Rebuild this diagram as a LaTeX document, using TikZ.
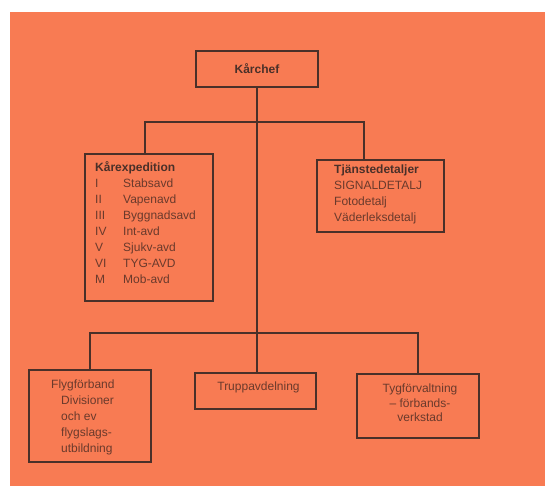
\documentclass[tikz,border=0pt]{standalone}
\usepackage{fontspec}
\setmainfont{Liberation Sans}
\usepackage{array}
\definecolor{bgorange}{HTML}{F87B53}
\definecolor{lineink}{HTML}{4A3029}
\definecolor{textink}{HTML}{6A3A2C}
\tikzset{
  orgbox/.style={draw=lineink, line width=2pt, inner sep=0pt},
  conn/.style={draw=lineink, line width=2.4pt, line cap=rect},
  txt/.style={inner sep=0pt, text=textink, font=\fontsize{12}{16}\selectfont},
}
\begin{document}
\begin{tikzpicture}[x=1pt,y=-1pt]
\useasboundingbox (0,0) rectangle (545,486);
\fill[white] (0,0) rectangle (545,486);
\fill[bgorange] (10,12) rectangle (545,486);

% boxes
\node[orgbox, minimum width=122pt, minimum height=36pt] (chef) at (257,69) {};
\node[orgbox, minimum width=128pt, minimum height=147pt] (exp) at (149,227.5) {};
\node[orgbox, minimum width=127pt, minimum height=72pt] (tj) at (380.5,196) {};
\node[orgbox, minimum width=122pt, minimum height=92pt] (fly) at (90,416) {};
\node[orgbox, minimum width=121pt, minimum height=36pt] (trupp) at (255.5,391) {};
\node[orgbox, minimum width=122pt, minimum height=64pt] (tyg) at (418,406) {};

% texts
\node[txt, font=\fontsize{12}{16}\selectfont\bfseries, text=lineink] (chefT) at (257,69) {Kårchef};
\node[txt, anchor=north west] (expT) at (95,160) {%
\begin{tabular}{@{}p{28pt}@{}l@{}}
\multicolumn{2}{@{}l@{}}{\bfseries\color{lineink}Kårexpedition}\\
I & Stabsavd\\
II & Vapenavd\\
III & Byggnadsavd\\
IV & Int-avd\\
V & Sjukv-avd\\
VI & TYG-AVD\\
M & Mob-avd
\end{tabular}};
\node[txt, anchor=north west] (tjT) at (334,162) {%
\begin{tabular}{@{}l@{}}
{\bfseries\color{lineink}Tjänstedetaljer}\\
SIGNALDETALJ\\
Fotodetalj\\
Väderleksdetalj
\end{tabular}};
\node[txt, anchor=north west] (flyT) at (51,377) {%
\begin{tabular}{@{}l@{}}
Flygförband\\
\hspace{10pt}Divisioner\\
\hspace{10pt}och ev\\
\hspace{10pt}flygslags-\\
\hspace{10pt}utbildning
\end{tabular}};
\node[txt] (truppT) at (258.5,387) {Truppavdelning};
\node[txt, anchor=north, align=center, font=\fontsize{12}{14.8}\selectfont] (tygT) at (420,383.5) {Tygförvaltning\\ – förbands-\\ verkstad};

% connectors
\coordinate (top) at (chef.south |- 0,122);
\coordinate (bot) at (chef.south |- 0,333);
\draw[conn] (chef.south) -- (bot);
\draw[conn] (exp.north -| 145,0) |- (top) -| (tj.north -| 364,0);
\draw[conn] (fly.north) |- (bot) -| (tyg.north);
\draw[conn] (bot) -- (trupp.north -| bot);
\end{tikzpicture}
\end{document}
